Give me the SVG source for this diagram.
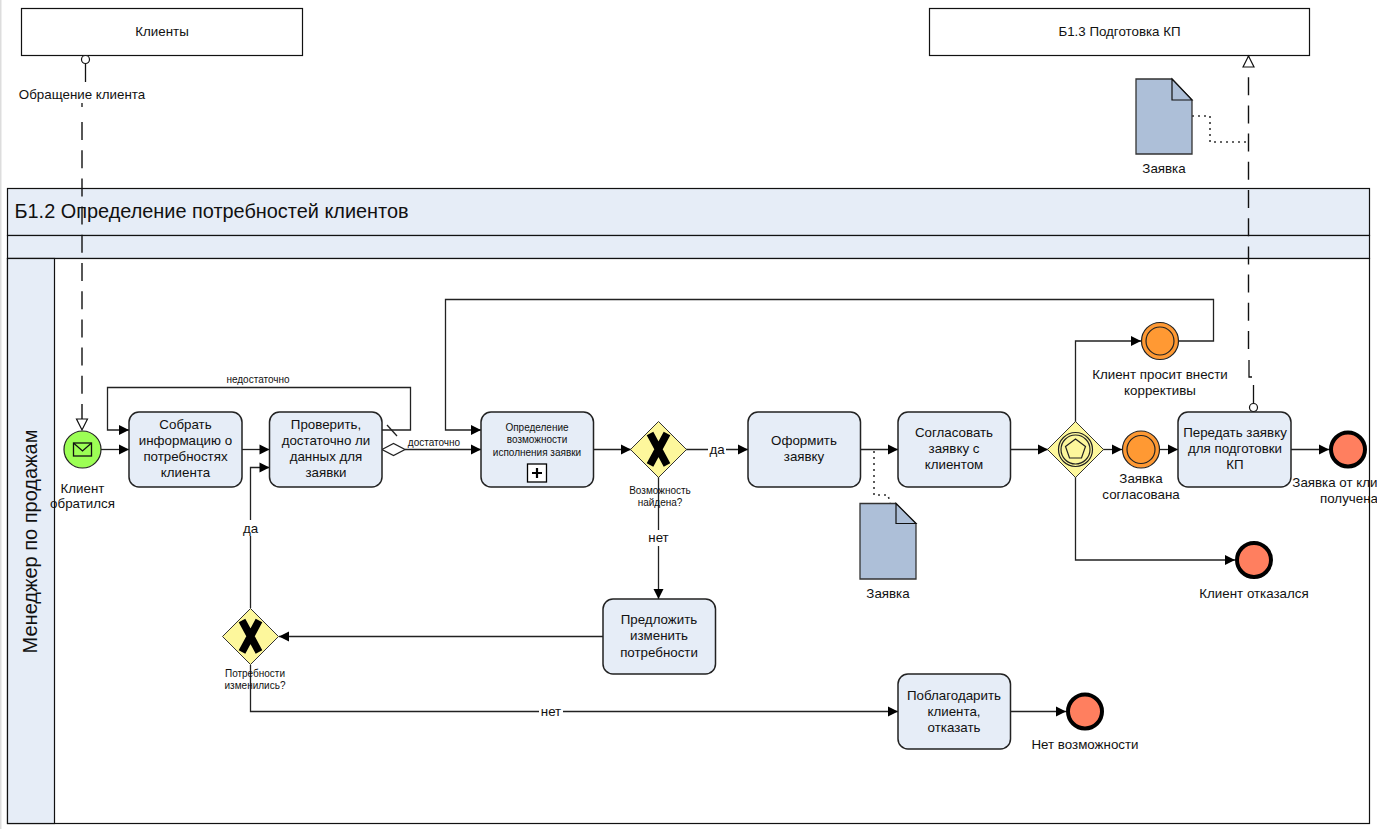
<svg xmlns="http://www.w3.org/2000/svg" width="1377" height="829" viewBox="0 0 1377 829">
<style>
text{font-family:"Liberation Sans",Arial,sans-serif;font-size:13.33px;fill:#111;text-anchor:middle}
.s{font-size:10px}
.b{fill:#fff;stroke:#111;stroke-width:1.2}
.band{fill:#e6edf7;stroke:#111;stroke-width:1.2}
.task{fill:#e6edf7;stroke:#222;stroke-width:1.5}
.gw{fill:#fdf79c;stroke:#333;stroke-width:1}
.x{fill:none;stroke:#000;stroke-width:7.500}
.doc{fill:#adbfd8;stroke:#333;stroke-width:1.3}
.fold{fill:#adbfd8;stroke:#111;stroke-width:1.2}
.ie{fill:#ff9933;stroke:#222;stroke-width:1.2}
.ii{fill:none;stroke:#222;stroke-width:1.2}
.end{fill:#ff7f5f;stroke:#000;stroke-width:4}
.f{fill:none;stroke:#222;stroke-width:1.3}
.a{marker-end:url(#ah)}
.m{fill:none;stroke:#111;stroke-width:1.4;stroke-dasharray:18 10.2}
.d{fill:none;stroke:#333;stroke-width:1.6;stroke-dasharray:2 4}
.o{fill:#fff;stroke:#111;stroke-width:1.2}
.w{fill:#fff;stroke:none}
</style>
<defs>
<marker id="ah" markerUnits="userSpaceOnUse" markerWidth="12" markerHeight="12" refX="11" refY="6" orient="auto"><path d="M1 1L11 6L1 11Z" fill="#000"/></marker>
<marker id="mh" markerUnits="userSpaceOnUse" markerWidth="14" markerHeight="14" refX="12" refY="6.500" orient="auto"><path d="M1 1L12 6.500L1 12Z" fill="#fff" stroke="#111" stroke-width="1.200"/></marker>
</defs>
<rect x="0" y="0" width="1.500" height="829" fill="#ddd"/>

<g id="pool">
<rect class="band" x="7.500" y="188.500" width="1362" height="47"/>
<rect class="band" x="7.500" y="235.500" width="1362" height="23"/>
<rect class="b" x="7.500" y="258.500" width="1362" height="565"/>
<rect class="band" x="7.500" y="258.500" width="47" height="565"/>
<text x="14.500" y="218" style="font-size:19.900px;text-anchor:start">Б1.2 Определение потребностей клиентов</text>
<text transform="translate(37 541.500) rotate(-90)" style="font-size:20px">Менеджер по продажам</text>
</g>

<g id="pool-clients"><rect class="b" x="21.500" y="8.500" width="281" height="47"/><text x="162" y="36">Клиенты</text></g>
<g id="pool-b13"><rect class="b" x="929.500" y="8.500" width="380" height="47"/><text x="1119.500" y="36">Б1.3 Подготовка КП</text></g>

<g id="connectors">
<path class="f a" d="M101 449.500H129"/>
<path class="f a" d="M382 430H410.500V387.500H107.500V430H129"/>
<path class="f" d="M387 425L397 436"/>
<path class="f a" d="M242 449.500H269.500"/>
<path class="f a" d="M405 449.500H481"/>
<path class="f" style="fill:#fff" d="M382 449.500L393.500 443.500L405 449.500L393.500 455.500Z"/>
<path class="f a" d="M1179 341H1213.500V299.500H445.500V430H481"/>
<path class="f a" d="M593.500 449.500H631"/>
<path class="f a" d="M686 449.500H748"/>
<path class="f a" d="M658.500 477V599"/>
<path class="f a" d="M860 449.500H898"/>
<path class="f a" d="M1010 449.500H1048"/>
<path class="f a" d="M1103 449.500H1122"/>
<path class="f a" d="M1075.500 422V341H1141"/>
<path class="f a" d="M1075.500 477V560H1235"/>
<path class="f a" d="M1160 449.500H1178"/>
<path class="f a" d="M1291 449.500H1329"/>
<path class="f a" d="M250.500 608V467.500H269.500"/>
<path class="f a" d="M603 636.500H279"/>
<path class="f a" d="M250.500 665V711.500H898"/>
<path class="f a" d="M1010 711.500H1066"/>
<path class="d" d="M874 451V495H888L890 503"/>
<path class="d" d="M1192 116H1210V142H1246"/>
<path class="f" style="stroke:#111" d="M85.500 64V82"/>
<path class="f" style="stroke:#111" d="M82 103V107"/>
<path class="m" style="marker-end:url(#mh)" d="M82 122V430"/>
<circle class="o" cx="85.500" cy="59.500" r="4"/>
<path class="f" style="stroke:#111" d="M1253.500 403V385"/>
<path class="f" style="stroke:#111" d="M1252 377H1249V360"/>
<path class="m" style="marker-end:url(#mh)" d="M1248.500 349V56"/>
<circle class="o" cx="1253.500" cy="407.500" r="4"/>
<rect class="w" x="708" y="441" width="18" height="16"/>
<rect class="w" x="648" y="530" width="22" height="16"/>
<rect class="w" x="241" y="520" width="18" height="16"/>
<rect class="w" x="539" y="704" width="24" height="15"/>
<text x="717" y="454">да</text>
<text x="658.500" y="542">нет</text>
<text x="250.500" y="533">да</text>
<text x="551" y="716">нет</text>
<text class="s" x="258" y="383">недостаточно</text>
<text class="s" x="434" y="446">достаточно</text>
<text x="82" y="99">Обращение клиента</text>
</g>

<g id="start-event"><circle cx="82.500" cy="449.500" r="18.500" fill="#9cff55" stroke="#222" stroke-width="1.200"/><rect x="73.500" y="443" width="18" height="13" fill="none" stroke="#111" stroke-width="1.300"/><path d="M73.500 443L82.500 451L91.500 443" fill="none" stroke="#111" stroke-width="1.300"/><text x="82.500" y="493">Клиент</text><text x="82.500" y="508">обратился</text></g>

<g id="task-collect"><rect class="task" x="129" y="412" width="113" height="75" rx="10"/><text x="185.500" y="429">Собрать</text><text x="185.500" y="445">информацию о</text><text x="185.500" y="461">потребностях</text><text x="185.500" y="477">клиента</text></g>
<g id="task-check"><rect class="task" x="269.500" y="412" width="112.500" height="75" rx="10"/><text x="326" y="429">Проверить,</text><text x="326" y="445">достаточно ли</text><text x="326" y="461">данных для</text><text x="326" y="477">заявки</text></g>
<g id="task-sub"><rect class="task" x="481" y="412" width="112.500" height="75" rx="10"/><text class="s" x="537" y="431">Определение</text><text class="s" x="537" y="443">возможности</text><text class="s" x="537" y="456">исполнения заявки</text><rect x="527.500" y="464" width="19" height="18" fill="#fff" stroke="#000" stroke-width="1.300"/><path d="M537 468V478M532 473H542" stroke="#000" stroke-width="2.200"/></g>
<g id="gateway-found"><path class="gw" d="M658.500 421.500L686.500 449.500L658.500 477.500L630.500 449.500Z"/><path class="x" d="M650 433.500L667 465M667 433.500L650 465"/><text class="s" x="660" y="494">Возможность</text><text class="s" x="660" y="506">найдена?</text></g>
<g id="task-form"><rect class="task" x="748" y="412" width="112.500" height="75" rx="10"/><text x="804" y="445">Оформить</text><text x="804" y="461">заявку</text></g>
<g id="task-agree"><rect class="task" x="898" y="412" width="112.500" height="75" rx="10"/><text x="954" y="437">Согласовать</text><text x="954" y="453">заявку с</text><text x="954" y="469">клиентом</text></g>
<g id="gateway-event"><path class="gw" d="M1075.500 421.500L1103.500 449.500L1075.500 477.500L1047.500 449.500Z"/><circle class="ii" cx="1075.500" cy="449.500" r="17"/><circle class="ii" cx="1075.500" cy="449.500" r="14.500"/><path class="ii" d="M1075.500 439L1085.500 446.500L1081.500 458H1069.500L1065.500 446.500Z"/></g>
<g id="event-changes"><circle class="ie" cx="1160" cy="341" r="18.500"/><circle class="ii" cx="1160" cy="341" r="14"/><text x="1160" y="379">Клиент просит внести</text><text x="1160" y="395">коррективы</text></g>
<g id="event-agreed"><circle class="ie" cx="1141" cy="449.500" r="18.500"/><circle class="ii" cx="1141" cy="449.500" r="14"/><text x="1141" y="483">Заявка</text><text x="1141" y="499">согласована</text></g>
<g id="task-transfer"><rect class="task" x="1178" y="412" width="113" height="75" rx="10"/><text x="1235" y="437">Передать заявку</text><text x="1235" y="453">для подготовки</text><text x="1235" y="469">КП</text></g>
<g id="end-received"><circle class="end" cx="1348" cy="449.500" r="17"/><text x="1349" y="487">Заявка от клиента</text><text x="1349" y="503">получена</text></g>
<g id="end-refused"><circle class="end" cx="1254" cy="560" r="17"/><text x="1254" y="598">Клиент отказался</text></g>
<g id="end-none"><circle class="end" cx="1085" cy="711.500" r="17"/><text x="1085" y="749">Нет возможности</text></g>
<g id="task-offer"><rect class="task" x="603" y="599" width="112.500" height="75" rx="10"/><text x="659" y="624">Предложить</text><text x="659" y="640">изменить</text><text x="659" y="657">потребности</text></g>
<g id="gateway-changed"><path class="gw" d="M250.500 608.500L278.500 636.500L250.500 664.500L222.500 636.500Z"/><path class="x" d="M242 620.500L259 652M259 620.500L242 652"/><text class="s" x="255" y="677">Потребности</text><text class="s" x="255" y="689">изменились?</text></g>
<g id="task-thanks"><rect class="task" x="898" y="674" width="112.500" height="75" rx="10"/><text x="954" y="700">Поблагодарить</text><text x="954" y="716">клиента,</text><text x="954" y="732">отказать</text></g>
<g id="doc-bottom"><path class="doc" d="M860 503.500H896L916 523.500V579H860Z"/><path class="fold" d="M896 503.500V523.500H916Z"/><text x="888" y="598">Заявка</text></g>
<g id="doc-top"><path class="doc" d="M1136 79H1172L1192 100V154H1136Z"/><path class="fold" d="M1172 79V100H1192Z"/><text x="1164" y="173">Заявка</text></g>
</svg>
